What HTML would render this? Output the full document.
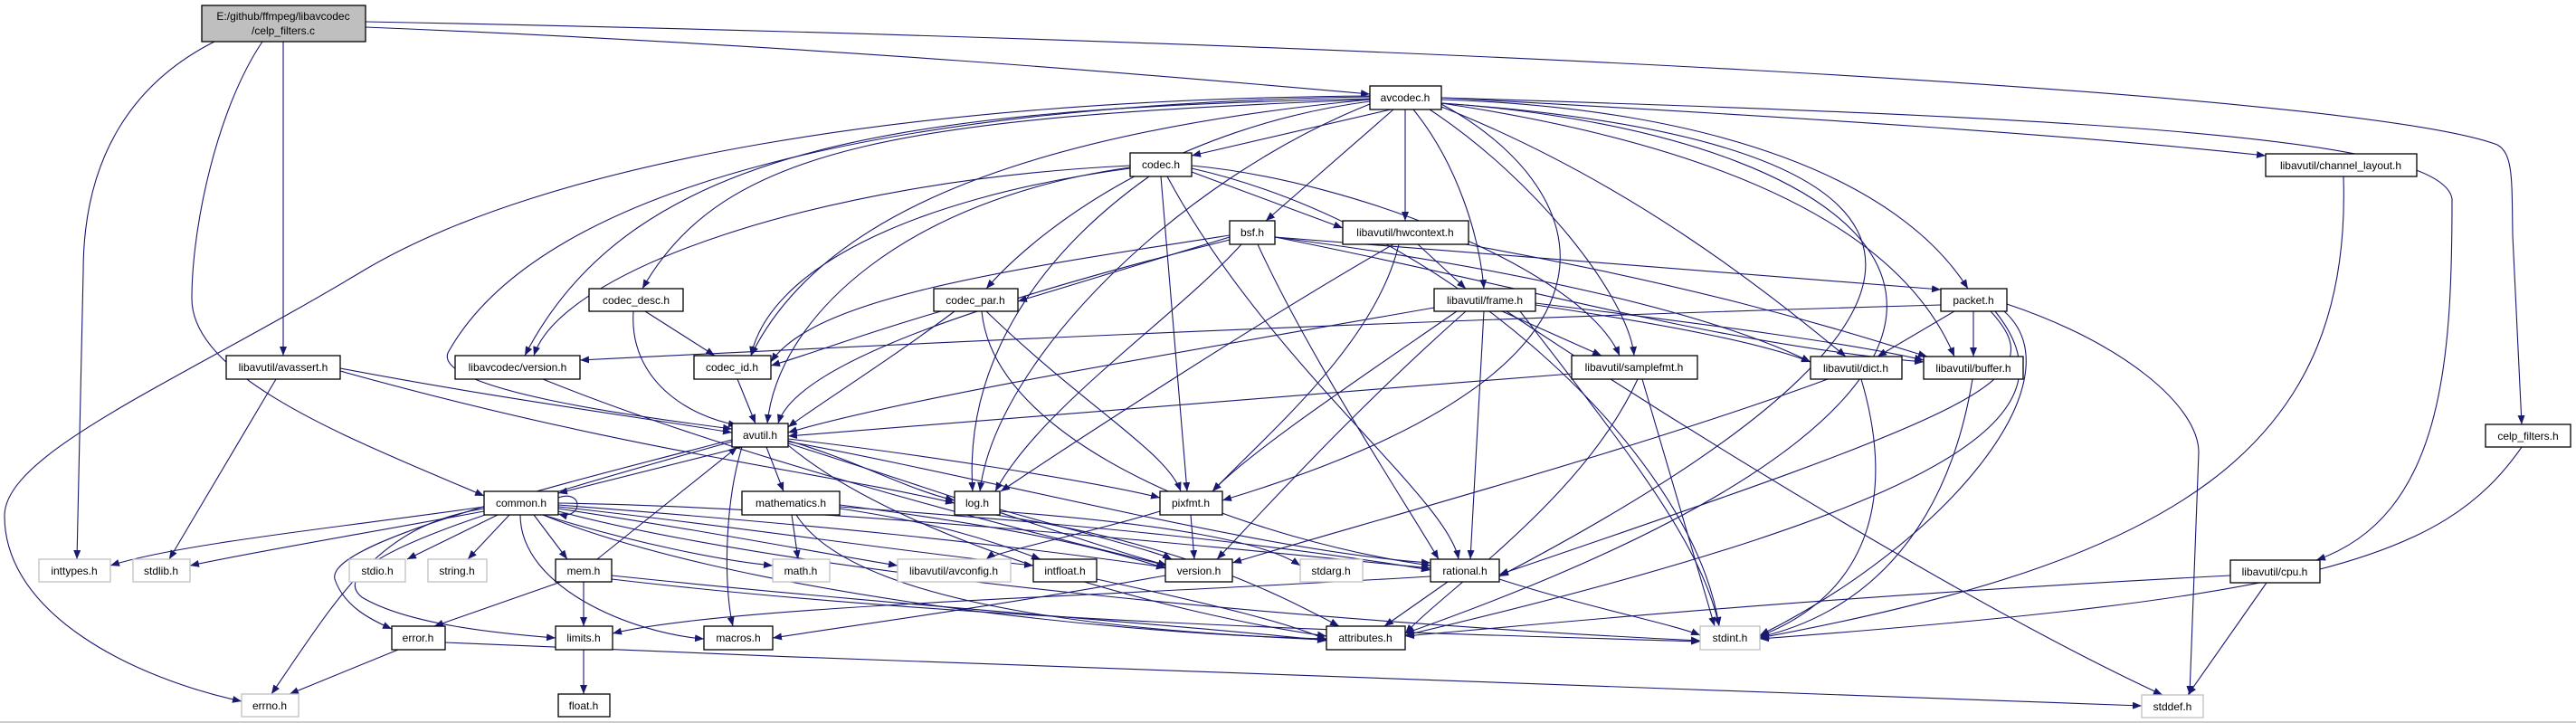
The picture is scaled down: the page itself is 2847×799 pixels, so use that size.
<!DOCTYPE html>
<html><head><meta charset="utf-8"><style>
html,body{margin:0;padding:0;background:#fff;}
svg{display:block;}
text{font-family:"Liberation Sans",sans-serif;font-size:12px;fill:#000;}
.e{fill:none;stroke:#191970;stroke-width:1.1;marker-end:url(#a);}
.n{fill:#fff;stroke:#000;stroke-width:1.3;}
.g{fill:#fff;stroke:#bfbfbf;stroke-width:1.3;}
</style></head><body>
<svg width="2847" height="799" viewBox="0 0 2847 799" xmlns="http://www.w3.org/2000/svg">
<defs><marker id="a" viewBox="0 0 10 8" refX="10" refY="4" markerWidth="10" markerHeight="8" markerUnits="userSpaceOnUse" orient="auto"><path d="M0,0 L10,4 L0,8 z" fill="#191970"/></marker></defs>
<rect x="0" y="0" width="2847" height="799" fill="#fff"/>
<line x1="0" y1="798" x2="2847" y2="798" stroke="#bbb" stroke-width="1.5"/>
<g>
<path class="e" d="M404,30 C900,50 1300,85 1514,104"/>
<path class="e" d="M404,24 C1500,45 2600,100 2760,160 C2778,170 2776,200 2777,260 L2787,469"/>
<path class="e" d="M237,46 C150,90 92,170 92,300 L85,618"/>
<path class="e" d="M313,46 L313,393"/>
<path class="e" d="M290,46 C240,120 212,250 212,330 C212,420 400,490 535,548"/>
<path class="e" d="M1537,121 L1317,172"/>
<path class="e" d="M1540,121 L1399,244"/>
<path class="e" d="M1553,121 L1553,244"/>
<path class="e" d="M1562,121 C1610,180 1635,260 1640,319"/>
<path class="e" d="M1514,112 C1300,140 1150,250 1090,319"/>
<path class="e" d="M1514,110 C1000,130 800,160 710,319"/>
<path class="e" d="M1514,109 C1000,120 700,160 580,393"/>
<path class="e" d="M1514,110 C1100,150 900,250 830,393"/>
<path class="e" d="M1514,107 C1000,115 600,200 495,390 C480,430 700,460 809,474"/>
<path class="e" d="M1514,106 C1000,110 600,180 400,300 C200,420 5,500 5,570 C5,680 150,750 267,775"/>
<path class="e" d="M1514,115 C1300,200 1100,400 1083,543"/>
<path class="e" d="M1593,115 C1750,200 1860,400 1351,553"/>
<path class="e" d="M1580,121 C1700,200 1800,330 1806,393"/>
<path class="e" d="M1593,118 C1800,200 1950,320 2040,394"/>
<path class="e" d="M1593,114 C1900,160 2100,250 2160,394"/>
<path class="e" d="M1593,110 C1900,120 2100,200 2175,319"/>
<path class="e" d="M1593,108 C2000,130 2300,150 2504,172"/>
<path class="e" d="M1593,108 C2300,130 2700,150 2710,220 C2710,400 2700,570 2560,619"/>
<path class="e" d="M1593,114 C2100,150 2300,300 1657,637"/>
<path class="e" d="M1593,114 C2100,150 2400,400 1553,700"/>
<path class="e" d="M1317,190 L1484,252"/>
<path class="e" d="M1249,186 C1000,220 850,300 830,393"/>
<path class="e" d="M1249,183 C900,200 620,300 590,393"/>
<path class="e" d="M1249,185 C1000,220 860,350 848,468"/>
<path class="e" d="M1270,195 C1150,280 1065,400 1075,543"/>
<path class="e" d="M1283,195 L1312,543"/>
<path class="e" d="M1290,195 C1400,400 1600,550 1612,618"/>
<path class="e" d="M1317,183 C1500,200 1750,300 1790,393"/>
<path class="e" d="M1317,186 C1600,250 1870,500 1900,692"/>
<path class="e" d="M1359,262 L1125,333"/>
<path class="e" d="M1359,260 C1100,300 900,330 852,400"/>
<path class="e" d="M1359,265 C1100,330 880,400 860,468"/>
<path class="e" d="M1409,262 C1700,300 1900,350 2001,400"/>
<path class="e" d="M1409,262 L2145,320"/>
<path class="e" d="M1409,262 C1700,320 1900,380 2126,400"/>
<path class="e" d="M1372,270 C1300,350 1150,450 1100,543"/>
<path class="e" d="M1390,270 C1450,400 1550,550 1590,618"/>
<path class="e" d="M1567,270 L1620,319"/>
<path class="e" d="M1540,270 C1400,350 1200,480 1106,543"/>
<path class="e" d="M1546,270 C1520,380 1400,480 1340,543"/>
<path class="e" d="M1620,270 C1900,320 2050,370 2130,394"/>
<path class="e" d="M713,344 L790,393"/>
<path class="e" d="M700,344 C695,420 760,460 815,470"/>
<path class="e" d="M2145,337 C1500,355 900,385 641,398"/>
<path class="e" d="M1040,344 C950,370 900,390 852,404"/>
<path class="e" d="M1055,344 C980,400 900,450 871,472"/>
<path class="e" d="M1090,344 C1200,450 1290,500 1305,543"/>
<path class="e" d="M1085,344 C1100,500 1400,600 1581,625"/>
<path class="e" d="M1585,340 C1300,390 1000,440 871,478"/>
<path class="e" d="M1660,344 L1770,393"/>
<path class="e" d="M1697,337 C1850,360 1950,380 2001,400"/>
<path class="e" d="M1697,335 C1900,360 2050,380 2126,398"/>
<path class="e" d="M1610,344 C1500,420 1380,500 1340,543"/>
<path class="e" d="M1640,344 L1625,618"/>
<path class="e" d="M1620,344 C1500,450 1400,560 1345,618"/>
<path class="e" d="M1665,344 C1900,500 2200,680 2390,768"/>
<path class="e" d="M1680,344 C1800,500 1880,600 1900,692"/>
<path class="e" d="M2160,344 L2075,394"/>
<path class="e" d="M2181,344 L2181,394"/>
<path class="e" d="M2200,344 C2270,420 2200,450 1657,635"/>
<path class="e" d="M2205,344 C2290,450 2200,550 1553,702"/>
<path class="e" d="M2215,344 C2300,420 2150,600 1945,702"/>
<path class="e" d="M2218,336 C2350,380 2430,450 2430,500 L2420,768"/>
<path class="e" d="M1737,413 C1400,440 1000,470 871,482"/>
<path class="e" d="M1810,419 C1750,550 1600,650 1553,700"/>
<path class="e" d="M1815,419 L1895,692"/>
<path class="e" d="M2057,419 C2090,530 2080,650 1945,703"/>
<path class="e" d="M2020,419 C1800,500 1500,580 1362,622"/>
<path class="e" d="M2180,419 C2150,600 2050,680 1945,704"/>
<path class="e" d="M2590,195 C2600,500 2400,620 1945,705"/>
<path class="e" d="M2787,494 C2700,620 2550,660 1945,706"/>
<path class="e" d="M2465,636 C2000,660 1700,690 1553,703"/>
<path class="e" d="M2505,644 L2418,768"/>
<path class="e" d="M376,407 C550,440 700,460 809,478"/>
<path class="e" d="M376,410 C700,500 900,520 1055,556"/>
<path class="e" d="M305,419 L187,618"/>
<path class="e" d="M600,419 C800,500 1100,580 1290,625"/>
<path class="e" d="M815,419 L835,468"/>
<path class="e" d="M820,494 L617,545"/>
<path class="e" d="M847,494 L866,543"/>
<path class="e" d="M820,494 C800,560 800,650 810,692"/>
<path class="e" d="M871,487 C950,510 1000,540 1055,553"/>
<path class="e" d="M871,485 C1000,500 1200,530 1282,550"/>
<path class="e" d="M871,490 C1000,530 1200,600 1290,625"/>
<path class="e" d="M871,488 C1100,530 1400,610 1581,622"/>
<path class="e" d="M871,492 C1000,600 1300,680 1466,703"/>
<path class="e" d="M809,486 C600,540 360,600 370,640 C380,670 410,685 433,695"/>
<path class="e" d="M809,488 C550,560 350,620 400,660 C450,690 550,700 614,705"/>
<path class="e" d="M660,618 L815,494"/>
<path class="e" d="M617,550 C645,540 645,575 617,568"/>
<path class="e" d="M535,560 C400,580 200,600 122,625"/>
<path class="e" d="M535,565 C400,590 280,610 210,625"/>
<path class="e" d="M550,569 L450,618"/>
<path class="e" d="M563,569 L517,618"/>
<path class="e" d="M590,569 L627,618"/>
<path class="e" d="M600,569 C700,600 800,620 854,625"/>
<path class="e" d="M535,562 C420,580 380,650 300,767"/>
<path class="e" d="M575,569 C575,650 700,700 778,706"/>
<path class="e" d="M600,569 C800,650 1200,700 1466,706"/>
<path class="e" d="M617,565 C900,640 1500,690 1879,708"/>
<path class="e" d="M617,562 C800,590 900,610 992,625"/>
<path class="e" d="M617,560 C800,580 1000,610 1142,625"/>
<path class="e" d="M617,558 C900,580 1100,600 1288,627"/>
<path class="e" d="M617,556 C900,560 1300,600 1581,628"/>
<path class="e" d="M875,569 L882,618"/>
<path class="e" d="M880,569 C950,680 1300,700 1466,707"/>
<path class="e" d="M928,560 C1200,580 1400,600 1581,630"/>
<path class="e" d="M928,558 C1100,580 1200,600 1288,628"/>
<path class="e" d="M928,562 C1050,580 1100,600 1150,618"/>
<path class="e" d="M1105,563 C1200,590 1280,610 1295,618"/>
<path class="e" d="M1100,569 C1300,600 1400,650 1480,692"/>
<path class="e" d="M1105,565 C1300,580 1400,600 1437,625"/>
<path class="e" d="M1316,569 L1320,618"/>
<path class="e" d="M1282,565 C1200,590 1100,610 1090,618"/>
<path class="e" d="M1288,636 C1100,670 950,690 854,705"/>
<path class="e" d="M1212,640 C1350,670 1430,690 1466,707"/>
<path class="e" d="M1600,643 L1530,692"/>
<path class="e" d="M1657,640 C1750,670 1850,690 1879,702"/>
<path class="e" d="M1581,637 C1200,660 800,670 677,700"/>
<path class="e" d="M620,643 L480,692"/>
<path class="e" d="M645,643 L645,692"/>
<path class="e" d="M676,636 C1000,670 1300,690 1466,708"/>
<path class="e" d="M676,640 C1100,690 1600,700 1879,709"/>
<path class="e" d="M440,718 L320,767"/>
<path class="e" d="M492,710 C1200,740 2000,770 2367,780"/>
<path class="e" d="M645,718 L645,767"/>
</g>
<g text-anchor="middle">
<rect x="223" y="6" width="181" height="40" fill="#bfbfbf" stroke="#000" stroke-width="1.3"/>
<text x="313" y="22">E:/github/ffmpeg/libavcodec</text><text x="313" y="38">/celp_filters.c</text>
<rect class="n" x="1514" y="95" width="79" height="26"/><text x="1553" y="112">avcodec.h</text>
<rect class="n" x="1249" y="169" width="68" height="26"/><text x="1283" y="186">codec.h</text>
<rect class="n" x="1359" y="244" width="50" height="26"/><text x="1384" y="261">bsf.h</text>
<rect class="n" x="1484" y="244" width="139" height="26"/><text x="1553" y="261">libavutil/hwcontext.h</text>
<rect class="n" x="2504" y="170" width="167" height="25"/><text x="2587" y="187">libavutil/channel_layout.h</text>
<rect class="n" x="651" y="319" width="104" height="25"/><text x="703" y="336">codec_desc.h</text>
<rect class="n" x="1032" y="319" width="93" height="25"/><text x="1078" y="336">codec_par.h</text>
<rect class="n" x="1585" y="319" width="112" height="25"/><text x="1641" y="336">libavutil/frame.h</text>
<rect class="n" x="2145" y="319" width="73" height="25"/><text x="2181" y="336">packet.h</text>
<rect class="n" x="250" y="393" width="126" height="26"/><text x="313" y="410">libavutil/avassert.h</text>
<rect class="n" x="503" y="393" width="138" height="26"/><text x="572" y="410">libavcodec/version.h</text>
<rect class="n" x="767" y="393" width="85" height="26"/><text x="809" y="410">codec_id.h</text>
<rect class="n" x="1737" y="393" width="139" height="26"/><text x="1806" y="410">libavutil/samplefmt.h</text>
<rect class="n" x="2001" y="394" width="101" height="25"/><text x="2051" y="411">libavutil/dict.h</text>
<rect class="n" x="2126" y="394" width="110" height="25"/><text x="2181" y="411">libavutil/buffer.h</text>
<rect class="n" x="809" y="468" width="62" height="26"/><text x="840" y="485">avutil.h</text>
<rect class="n" x="2747" y="469" width="94" height="25"/><text x="2794" y="486">celp_filters.h</text>
<rect class="n" x="535" y="543" width="82" height="26"/><text x="576" y="560">common.h</text>
<rect class="n" x="820" y="543" width="108" height="26"/><text x="874" y="560">mathematics.h</text>
<rect class="n" x="1055" y="543" width="50" height="26"/><text x="1080" y="560">log.h</text>
<rect class="n" x="1282" y="543" width="69" height="26"/><text x="1316" y="560">pixfmt.h</text>
<rect class="g" x="43" y="618" width="79" height="25"/><text x="82" y="635">inttypes.h</text>
<rect class="g" x="147" y="618" width="63" height="25"/><text x="178" y="635">stdlib.h</text>
<rect class="g" x="386" y="618" width="62" height="25"/><text x="417" y="635">stdio.h</text>
<rect class="g" x="473" y="618" width="65" height="25"/><text x="505" y="635">string.h</text>
<rect class="n" x="614" y="618" width="62" height="25"/><text x="645" y="635">mem.h</text>
<rect class="g" x="854" y="618" width="63" height="25"/><text x="885" y="635">math.h</text>
<rect class="g" x="992" y="618" width="125" height="25"/><text x="1054" y="635">libavutil/avconfig.h</text>
<rect class="n" x="1142" y="618" width="70" height="25"/><text x="1177" y="635">intfloat.h</text>
<rect class="n" x="1288" y="618" width="74" height="25"/><text x="1325" y="635">version.h</text>
<rect class="g" x="1437" y="618" width="69" height="25"/><text x="1471" y="635">stdarg.h</text>
<rect class="n" x="1581" y="618" width="76" height="25"/><text x="1619" y="635">rational.h</text>
<rect class="n" x="2465" y="619" width="99" height="25"/><text x="2514" y="636">libavutil/cpu.h</text>
<rect class="n" x="433" y="692" width="59" height="26"/><text x="462" y="709">error.h</text>
<rect class="n" x="614" y="692" width="63" height="26"/><text x="645" y="709">limits.h</text>
<rect class="n" x="778" y="692" width="76" height="26"/><text x="816" y="709">macros.h</text>
<rect class="n" x="1466" y="692" width="87" height="26"/><text x="1509" y="709">attributes.h</text>
<rect class="g" x="1879" y="692" width="66" height="26"/><text x="1912" y="709">stdint.h</text>
<rect class="g" x="267" y="767" width="63" height="25"/><text x="298" y="784">errno.h</text>
<rect class="n" x="617" y="767" width="57" height="25"/><text x="645" y="784">float.h</text>
<rect class="g" x="2367" y="768" width="68" height="25"/><text x="2401" y="785">stddef.h</text>
</g>
</svg>
</body></html>
